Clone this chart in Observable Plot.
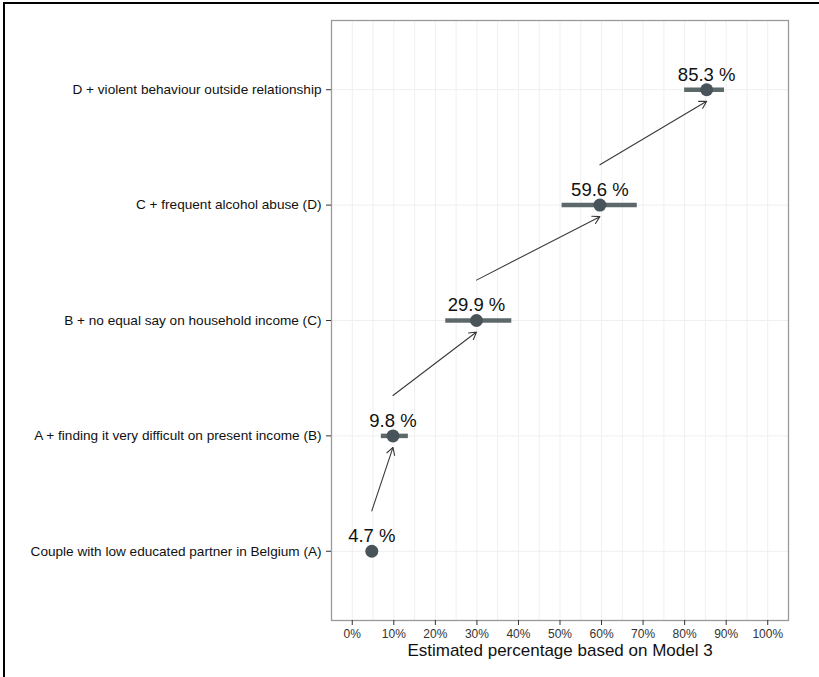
<!DOCTYPE html>
<html>
<head>
<meta charset="utf-8">
<script src="https://cdn.jsdelivr.net/npm/d3@7"></script>
<script src="https://cdn.jsdelivr.net/npm/@observablehq/plot@0.6"></script>
<style>
  html, body { margin: 0; padding: 0; background: #fff; overflow: hidden; }
  #wrap { position: relative; width: 819px; height: 677px; }
  #border { position: absolute; left: 3px; top: 2px; width: 900px; height: 800px; border: 2px solid #000; box-sizing: border-box; }
  #chart { position: absolute; left: 0; top: 0; }
</style>
</head>
<body>
<div id="wrap"><div id="border"></div><div id="chart"></div></div>
<script>
const categories = [
  "Couple with low educated partner in Belgium (A)",
  "A + finding it very difficult on present income (B)",
  "B + no equal say on household income (C)",
  "C + frequent alcohol abuse (D)",
  "D + violent behaviour outside relationship"
];
const estimates = [4.7, 9.8, 29.9, 59.6, 85.3];
const lower = [3.6, 7.0, 22.5, 50.5, 80.0];
const upper = [5.9, 13.5, 38.4, 68.6, 89.6];
const xTicks = [0, 10, 20, 30, 40, 50, 60, 70, 80, 90, 100];
const xGrid = [0, 5, 10, 15, 20, 25, 30, 35, 40, 45, 50, 55, 60, 65, 70, 75, 80, 85, 90, 95, 100];
const xTitle = "Estimated percentage based on Model 3";

const rows = categories.map((c, i) => ({
  cat: c, pos: i + 1, est: estimates[i], lo: lower[i], hi: upper[i],
  label: estimates[i].toFixed(1) + " %"
}));
const arrows = rows.slice(1).map((r, i) => ({
  x1: rows[i].est, y1: rows[i].pos + 0.35,
  x2: r.est, y2: r.pos - 0.1
}));

const dark = "#48545a";
const barCol = "#5d686b";

const chart = Plot.plot({
  width: 819,
  height: 677,
  marginLeft: 331,
  marginRight: 31,
  marginTop: 20,
  marginBottom: 57,
  style: { fontFamily: "Liberation Sans, Arial, sans-serif", background: "transparent" },
  x: { domain: [-5, 105] },
  y: { domain: [0.4, 5.6] },
  marks: [
    Plot.ruleX(xGrid, { stroke: "#efefef", strokeWidth: 1 }),
    Plot.ruleY(rows, { y: "pos", stroke: "#efefef", strokeWidth: 1 }),
    Plot.frame({ stroke: "#9a9a9a", strokeWidth: 1.3 }),
    Plot.axisX(xTicks, {
      tickFormat: d => d + "%", tickSize: 5, tickPadding: 4, fontSize: 12,
      stroke: "#333", fill: "#333", label: null
    }),
    Plot.axisY(rows.map(r => r.pos), {
      tickFormat: d => categories[d - 1], tickSize: 5, tickPadding: 5, fontSize: 13.6,
      stroke: "#333", fill: "#111", label: null
    }),
    Plot.text([xTitle], { frameAnchor: "bottom", dy: 35, fontSize: 17, fill: "#111", text: d => d }),
    Plot.arrow(arrows, {
      x1: "x1", y1: "y1", x2: "x2", y2: "y2",
      stroke: "#3a3a3a", strokeWidth: 1.1, headLength: 11, bend: 0
    }),
    Plot.ruleY(rows, { y: "pos", x1: "lo", x2: "hi", stroke: barCol, strokeWidth: 4.5 }),
    Plot.dot(rows, { x: "est", y: "pos", r: 6.5, fill: dark, stroke: "none" }),
    Plot.text(rows, { x: "est", y: "pos", text: "label", dy: -15, fontSize: 18.5, fill: "#111" })
  ]
});
document.getElementById("chart").appendChild(chart);
</script>
</body>
</html>
